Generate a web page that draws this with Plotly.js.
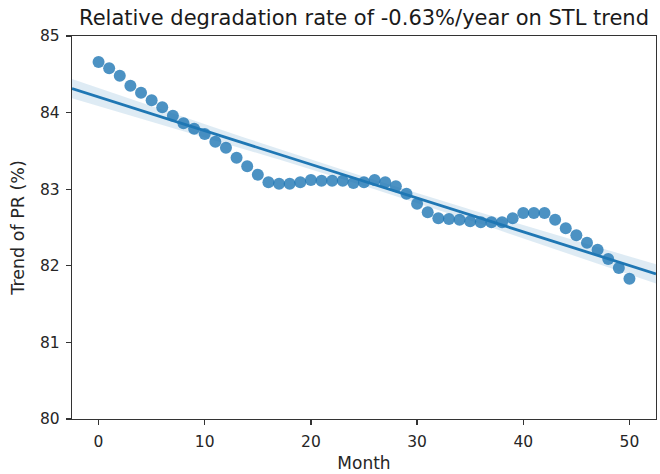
<!DOCTYPE html>
<html>
<head>
<meta charset="utf-8">
<script src="https://cdn.plot.ly/plotly-3.0.1.min.js"></script>
<style>html,body{margin:0;padding:0;background:#fff;}#chart{width:660px;height:474px;}</style>
</head>
<body>
<div id="chart"></div>
<script>
var months = [];
for (var i = 0; i <= 50; i++) months.push(i);
var trendPR = [84.66,84.58,84.48,84.35,84.26,84.16,84.07,83.96,83.86,83.79,
               83.72,83.62,83.54,83.41,83.30,83.19,83.09,83.07,83.07,83.09,
               83.12,83.11,83.11,83.11,83.08,83.09,83.12,83.09,83.04,82.94,
               82.81,82.70,82.62,82.61,82.60,82.58,82.57,82.57,82.57,82.62,
               82.69,82.69,82.69,82.60,82.49,82.40,82.30,82.21,82.09,81.97,
               81.83];
var titleText = 'Relative degradation rate of -0.63%/year on STL trend';

// linear regression fit with 95% confidence band
var n = months.length, mx = 0, my = 0;
for (var i = 0; i < n; i++) { mx += months[i]; my += trendPR[i]; }
mx /= n; my /= n;
var sxx = 0, sxy = 0;
for (var i = 0; i < n; i++) { sxx += (months[i]-mx)*(months[i]-mx); sxy += (months[i]-mx)*(trendPR[i]-my); }
var b = sxy / sxx, a = my - b*mx;
var sse = 0;
for (var i = 0; i < n; i++) { var r = trendPR[i] - (a + b*months[i]); sse += r*r; }
var s = Math.sqrt(sse/(n-2));
var t = 2.01;
var gx = [], gy = [], lo = [], hi = [];
for (var k = 0; k <= 110; k++) {
  var x = -2.5 + k*0.5;
  var yv = a + b*x;
  var se = s*Math.sqrt(1/n + (x-mx)*(x-mx)/sxx);
  gx.push(x); gy.push(yv); lo.push(yv - t*se); hi.push(yv + t*se);
}

var traces = [
  {x: gx, y: lo, mode: 'lines', line: {width: 0, color: 'rgba(0,0,0,0)'}, hoverinfo: 'skip', showlegend: false},
  {x: gx, y: hi, mode: 'lines', fill: 'tonexty', fillcolor: 'rgba(31,119,180,0.15)', line: {width: 0, color: 'rgba(0,0,0,0)'}, hoverinfo: 'skip', showlegend: false},
  {x: months, y: trendPR, mode: 'markers', marker: {size: 12, color: 'rgba(31,119,180,0.8)', line: {width: 0}}, showlegend: false},
  {x: gx, y: gy, mode: 'lines', line: {color: '#1f77b4', width: 2.8}, showlegend: false}
];

var axisCommon = {
  showgrid: false, zeroline: false, showline: true, mirror: true,
  linecolor: '#333', linewidth: 1.2, ticks: 'outside', ticklen: 5, tickwidth: 1.2, tickcolor: '#333',
  ticklabelstandoff: 3,
  tickfont: {family: 'DejaVu Sans', size: 15.5, color: '#262626'}
};

var layout = {
  width: 660, height: 474,
  margin: {l: 72, r: 4, t: 36, b: 55},
  paper_bgcolor: '#fff', plot_bgcolor: '#fff',
  title: {text: titleText, font: {family: 'DejaVu Sans', size: 21, color: '#1a1a1a'}, xref: 'paper', x: 0.5, xanchor: 'center', y: 0.962, yanchor: 'middle'},
  xaxis: Object.assign({}, axisCommon, {range: [-2.5, 52.5], tickvals: [0,10,20,30,40,50],
    title: {text: 'Month', font: {family: 'DejaVu Sans', size: 17, color: '#262626'}, standoff: 7}}),
  yaxis: Object.assign({}, axisCommon, {range: [80, 85], tickvals: [80,81,82,83,84,85],
    title: {text: 'Trend of PR (%)', font: {family: 'DejaVu Sans', size: 17.5, color: '#262626'}, standoff: 10}})
};

Plotly.newPlot('chart', traces, layout, {displayModeBar: false, staticPlot: true});
</script>
</body>
</html>
